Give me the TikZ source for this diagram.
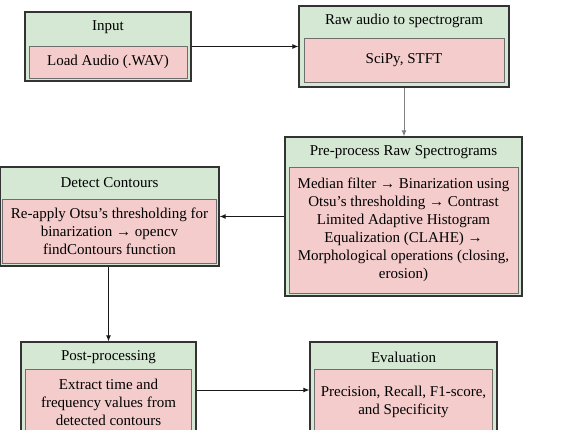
\documentclass[tikz,border=0pt]{standalone}
\usepackage{fontspec}
\setmainfont{Liberation Serif}
\usetikzlibrary{positioning,arrows.meta}
\definecolor{stagegreen}{HTML}{D5E8D4}
\definecolor{steppink}{HTML}{F4CCCC}
\definecolor{edgedark}{HTML}{333333}
\definecolor{edgegray}{HTML}{6E6E6E}

\begin{document}
\begin{tikzpicture}[x=1pt, y=-1pt,
  font=\fontsize{15}{18}\selectfont,
  stage/.style={draw=edgedark, line width=1.2pt, fill=stagegreen, inner sep=0pt},
  heading/.style={inner sep=0pt, text=black},
  detail/.style={draw=edgegray, line width=1pt, fill=steppink, align=center, inner sep=2pt, text=black},
  link/.style={-{Latex[length=6pt,width=5pt]}, line width=1pt, draw=black!90}]
\useasboundingbox (0,0) rectangle (572,430);
\clip (0,0) rectangle (572,430);
\fill[white] (0,0) rectangle (572,430);

%nodes
\node[stage, minimum width=166pt, minimum height=69pt] (inputbox) at (108,46.5) {};
\node[heading] (inputtitle) at ([yshift=-15.5pt]inputbox.north) {Input};
\node[detail, minimum width=158pt, minimum height=32pt, above=3pt of inputbox.south] (inputstep) {Load Audio (.WAV)};

\node[stage, minimum width=210pt, minimum height=81pt] (rawbox) at (404,46.5) {};
\node[heading] (rawtitle) at ([yshift=-15.5pt]rawbox.north) {Raw audio to spectrogram};
\node[detail, minimum width=200pt, minimum height=44pt, above=5pt of rawbox.south] (rawstep) {SciPy, STFT};

\node[stage, minimum width=237pt, minimum height=159pt] (prebox) at (403.5,216.5) {};
\node[heading] (pretitle) at ([yshift=-16pt]prebox.north) {Pre-process Raw Spectrograms};
\node[detail, minimum width=229pt, minimum height=126pt, above=3pt of prebox.south] (prestep)
  {Median filter → Binarization using\\ Otsu’s thresholding → Contrast\\ Limited Adaptive Histogram\\
   Equalization (CLAHE) →\\ Morphological operations (closing,\\ erosion)};

\node[stage, minimum width=219pt, minimum height=99pt] (detectbox) at (109.5,216.5) {};
\node[heading] (detecttitle) at ([yshift=-16pt]detectbox.north) {Detect Contours};
\node[detail, minimum width=214pt, minimum height=64pt, above=3pt of detectbox.south] (detectstep)
  {Re-apply Otsu’s thresholding for\\ binarization → opencv\\ findContours function};

\node[stage, minimum width=175pt, minimum height=96pt] (postbox) at (108.5,390) {};
\node[heading] (posttitle) at ([yshift=-15.5pt]postbox.north) {Post-processing};
\node[detail, minimum width=166pt, minimum height=66pt, above=3pt of postbox.south] (poststep)
  {Extract time and\\ frequency values from\\ detected contours};

\node[stage, minimum width=187pt, minimum height=96pt] (evalbox) at (403.5,390) {};
\node[heading] (evaltitle) at ([yshift=-15.5pt]evalbox.north) {Evaluation};
\node[detail, minimum width=178pt, minimum height=66pt, above=3pt of evalbox.south] (evalstep)
  {Precision, Recall, F1-score,\\ and Specificity};

%links
\draw[link] (inputbox) -- (rawbox);
\draw[link, draw=gray] (rawbox.south) -- (rawbox.south |- prebox.north);
\draw[link] (prebox) -- (detectbox);
\draw[link] (postbox.north |- detectbox.south) -- (postbox.north);
\draw[link] (postbox) -- (evalbox);
\end{tikzpicture}
\end{document}
